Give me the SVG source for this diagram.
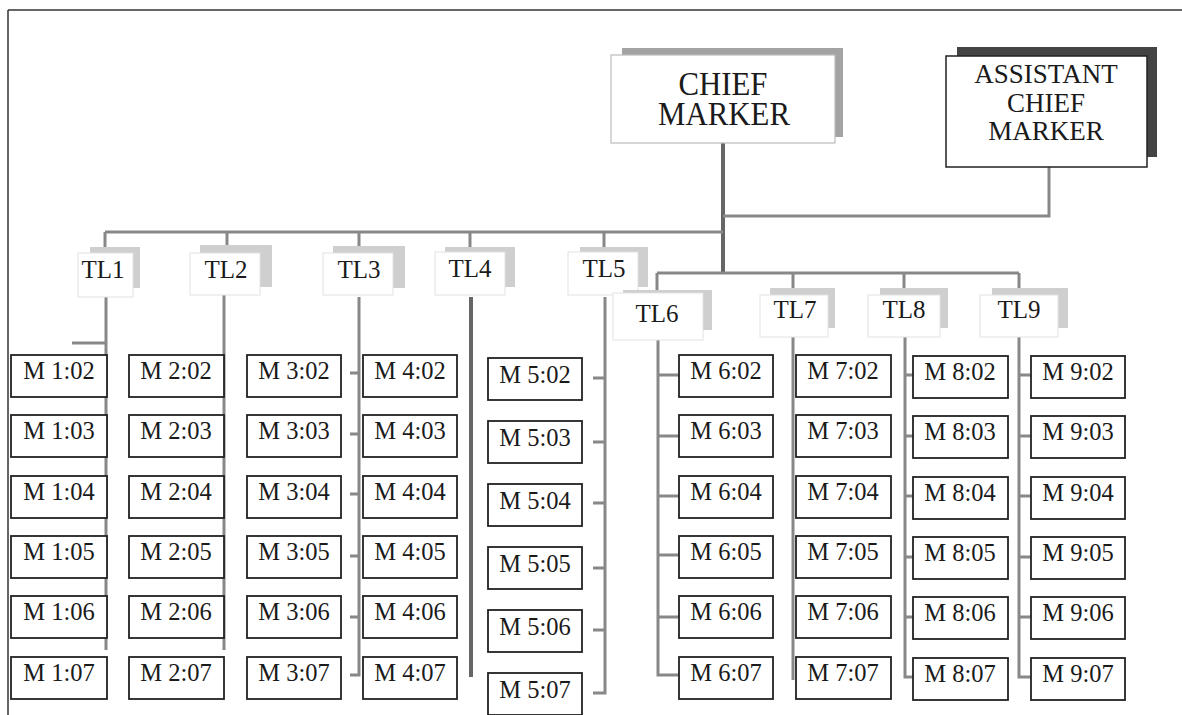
<svg xmlns="http://www.w3.org/2000/svg" width="1182" height="715" viewBox="0 0 1182 715">
<style>
.lbl{font-family:"Liberation Serif","Times New Roman",serif;fill:#1a1a1a;text-anchor:middle}
.m{font-size:24.5px}
.tl{font-size:25px}
.big{font-size:34px}
.asst{font-size:27px}
.mbox{fill:#fff;stroke:#222;stroke-width:1.8}
.tlf{fill:#fff;stroke:#e2e2e2;stroke-width:1}
.tls{fill:#cfcfcf}
.c{stroke:#888;stroke-width:3;fill:none}
.cd{stroke:#666;stroke-width:4;fill:none}
</style>
<rect width="1182" height="715" fill="#fff"/>
<g id="frame" stroke="#333" stroke-width="1.5" fill="none">
<line x1="8" y1="10" x2="1182" y2="10"/>
<line x1="8" y1="10" x2="8" y2="715"/>
</g>
<g id="connectors">
<path class="cd" d="M723 143V273"/>
<path class="c" d="M1049 167V216H723"/>
<path class="c" d="M105 232H723"/>
<path class="c" d="M105 232V255M227 232V255M359 232V255M470 232V255M604 232V255"/>
<path class="c" d="M657 273H1019M657 273V295M793 273V295M904 273V295M1019 273V295"/>
<path class="c" d="M106 297V343H72M106 343V650"/>
<path class="c" d="M224 295V650"/>
<path class="c" d="M359 297V675H350M359 373H350M359 434H350M359 494H350M359 556H350M359 617H350"/>
<path class="cd" d="M471 297V677"/>
<path class="c" d="M605 297V693H593M605 378H593M605 442H593M605 503H593M605 568H593M605 630H593"/>
<path class="c" d="M658 340V675H679M658 375H679M658 436H679M658 496H679M658 555H679M658 617H679"/>
<path class="c" d="M793 337V680"/>
<path class="c" d="M905 337V677H913M905 375H913M905 436H913M905 496H913M905 557H913M905 617H913"/>
<path class="c" d="M1019 337V677H1031M1019 375H1031M1019 436H1031M1019 496H1031M1019 557H1031M1019 617H1031"/>
</g>
<g id="chief">
<rect x="622" y="48" width="221" height="89" fill="#a3a3a3"/>
<rect x="611" y="55" width="224" height="88" fill="#fff" stroke="#bbb" stroke-width="1.2"/>
<text class="lbl big" x="723" y="95" textLength="89" lengthAdjust="spacingAndGlyphs">CHIEF</text>
<text class="lbl big" x="724" y="125" textLength="132" lengthAdjust="spacingAndGlyphs">MARKER</text>
</g>
<g id="assistant">
<rect x="957" y="47" width="200" height="110" fill="#444"/>
<rect x="946" y="56" width="201" height="111" fill="#fff" stroke="#222" stroke-width="1.5"/>
<text class="lbl asst" x="1046" y="83">ASSISTANT</text>
<text class="lbl asst" x="1046" y="112">CHIEF</text>
<text class="lbl asst" x="1046" y="140">MARKER</text>
</g>
<g id="tl1"><rect class="tls" x="90" y="247" width="50" height="41"/><rect class="tlf" x="78" y="253" width="55" height="44"/><text class="lbl tl" x="103" y="278">TL1</text></g>
<g id="tl2"><rect class="tls" x="200" y="245" width="72" height="42"/><rect class="tlf" x="190" y="253" width="70" height="42"/><text class="lbl tl" x="226" y="278">TL2</text></g>
<g id="tl3"><rect class="tls" x="333" y="246" width="72" height="42"/><rect class="tlf" x="323" y="253" width="70" height="42"/><text class="lbl tl" x="359" y="278">TL3</text></g>
<g id="tl4"><rect class="tls" x="445" y="247" width="70" height="40"/><rect class="tlf" x="435" y="252" width="70" height="43"/><text class="lbl tl" x="470" y="277">TL4</text></g>
<g id="tl5"><rect class="tls" x="580" y="247" width="68" height="40"/><rect class="tlf" x="568" y="252" width="70" height="43"/><text class="lbl tl" x="604" y="277">TL5</text></g>
<g id="tl6"><rect class="tls" x="623" y="290" width="89" height="40"/><rect class="tlf" x="613" y="293" width="90" height="47"/><text class="lbl tl" x="657" y="322">TL6</text></g>
<g id="tl7"><rect class="tls" x="770" y="288" width="65" height="40"/><rect class="tlf" x="760" y="295" width="68" height="42"/><text class="lbl tl" x="795" y="318">TL7</text></g>
<g id="tl8"><rect class="tls" x="880" y="288" width="68" height="40"/><rect class="tlf" x="868" y="295" width="72" height="42"/><text class="lbl tl" x="904" y="318">TL8</text></g>
<g id="tl9"><rect class="tls" x="992" y="288" width="76" height="40"/><rect class="tlf" x="980" y="295" width="78" height="42"/><text class="lbl tl" x="1019" y="318">TL9</text></g>
<g id="m1">
<g id="m1-02"><rect class="mbox" x="11" y="355" width="96" height="42"/><text class="lbl m" x="59" y="379">M 1:02</text></g>
<g id="m1-03"><rect class="mbox" x="11" y="415" width="96" height="42"/><text class="lbl m" x="59" y="439">M 1:03</text></g>
<g id="m1-04"><rect class="mbox" x="11" y="476" width="96" height="42"/><text class="lbl m" x="59" y="500">M 1:04</text></g>
<g id="m1-05"><rect class="mbox" x="11" y="536" width="96" height="42"/><text class="lbl m" x="59" y="560">M 1:05</text></g>
<g id="m1-06"><rect class="mbox" x="11" y="596" width="96" height="42"/><text class="lbl m" x="59" y="620">M 1:06</text></g>
<g id="m1-07"><rect class="mbox" x="11" y="657" width="96" height="42"/><text class="lbl m" x="59" y="681">M 1:07</text></g>
</g>
<g id="m2">
<g id="m2-02"><rect class="mbox" x="129" y="355" width="95" height="42"/><text class="lbl m" x="176" y="379">M 2:02</text></g>
<g id="m2-03"><rect class="mbox" x="129" y="415" width="95" height="42"/><text class="lbl m" x="176" y="439">M 2:03</text></g>
<g id="m2-04"><rect class="mbox" x="129" y="476" width="95" height="42"/><text class="lbl m" x="176" y="500">M 2:04</text></g>
<g id="m2-05"><rect class="mbox" x="129" y="536" width="95" height="42"/><text class="lbl m" x="176" y="560">M 2:05</text></g>
<g id="m2-06"><rect class="mbox" x="129" y="596" width="95" height="42"/><text class="lbl m" x="176" y="620">M 2:06</text></g>
<g id="m2-07"><rect class="mbox" x="129" y="657" width="95" height="42"/><text class="lbl m" x="176" y="681">M 2:07</text></g>
</g>
<g id="m3">
<g id="m3-02"><rect class="mbox" x="247" y="355" width="94" height="42"/><text class="lbl m" x="294" y="379">M 3:02</text></g>
<g id="m3-03"><rect class="mbox" x="247" y="415" width="94" height="42"/><text class="lbl m" x="294" y="439">M 3:03</text></g>
<g id="m3-04"><rect class="mbox" x="247" y="476" width="94" height="42"/><text class="lbl m" x="294" y="500">M 3:04</text></g>
<g id="m3-05"><rect class="mbox" x="247" y="536" width="94" height="42"/><text class="lbl m" x="294" y="560">M 3:05</text></g>
<g id="m3-06"><rect class="mbox" x="247" y="596" width="94" height="42"/><text class="lbl m" x="294" y="620">M 3:06</text></g>
<g id="m3-07"><rect class="mbox" x="247" y="657" width="94" height="42"/><text class="lbl m" x="294" y="681">M 3:07</text></g>
</g>
<g id="m4">
<g id="m4-02"><rect class="mbox" x="363" y="355" width="94" height="42"/><text class="lbl m" x="410" y="379">M 4:02</text></g>
<g id="m4-03"><rect class="mbox" x="363" y="415" width="94" height="42"/><text class="lbl m" x="410" y="439">M 4:03</text></g>
<g id="m4-04"><rect class="mbox" x="363" y="476" width="94" height="42"/><text class="lbl m" x="410" y="500">M 4:04</text></g>
<g id="m4-05"><rect class="mbox" x="363" y="536" width="94" height="42"/><text class="lbl m" x="410" y="560">M 4:05</text></g>
<g id="m4-06"><rect class="mbox" x="363" y="596" width="94" height="42"/><text class="lbl m" x="410" y="620">M 4:06</text></g>
<g id="m4-07"><rect class="mbox" x="363" y="657" width="94" height="42"/><text class="lbl m" x="410" y="681">M 4:07</text></g>
</g>
<g id="m5">
<g id="m5-02"><rect class="mbox" x="488" y="358" width="94" height="42"/><text class="lbl m" x="535" y="383">M 5:02</text></g>
<g id="m5-03"><rect class="mbox" x="488" y="421" width="94" height="42"/><text class="lbl m" x="535" y="446">M 5:03</text></g>
<g id="m5-04"><rect class="mbox" x="488" y="484" width="94" height="42"/><text class="lbl m" x="535" y="509">M 5:04</text></g>
<g id="m5-05"><rect class="mbox" x="488" y="547" width="94" height="42"/><text class="lbl m" x="535" y="572">M 5:05</text></g>
<g id="m5-06"><rect class="mbox" x="488" y="610" width="94" height="42"/><text class="lbl m" x="535" y="635">M 5:06</text></g>
<g id="m5-07"><rect class="mbox" x="488" y="673" width="94" height="42"/><text class="lbl m" x="535" y="698">M 5:07</text></g>
</g>
<g id="m6">
<g id="m6-02"><rect class="mbox" x="679" y="355" width="94" height="42"/><text class="lbl m" x="726" y="379">M 6:02</text></g>
<g id="m6-03"><rect class="mbox" x="679" y="415" width="94" height="42"/><text class="lbl m" x="726" y="439">M 6:03</text></g>
<g id="m6-04"><rect class="mbox" x="679" y="476" width="94" height="42"/><text class="lbl m" x="726" y="500">M 6:04</text></g>
<g id="m6-05"><rect class="mbox" x="679" y="536" width="94" height="42"/><text class="lbl m" x="726" y="560">M 6:05</text></g>
<g id="m6-06"><rect class="mbox" x="679" y="596" width="94" height="42"/><text class="lbl m" x="726" y="620">M 6:06</text></g>
<g id="m6-07"><rect class="mbox" x="679" y="657" width="94" height="42"/><text class="lbl m" x="726" y="681">M 6:07</text></g>
</g>
<g id="m7">
<g id="m7-02"><rect class="mbox" x="796" y="355" width="95" height="42"/><text class="lbl m" x="843" y="379">M 7:02</text></g>
<g id="m7-03"><rect class="mbox" x="796" y="415" width="95" height="42"/><text class="lbl m" x="843" y="439">M 7:03</text></g>
<g id="m7-04"><rect class="mbox" x="796" y="476" width="95" height="42"/><text class="lbl m" x="843" y="500">M 7:04</text></g>
<g id="m7-05"><rect class="mbox" x="796" y="536" width="95" height="42"/><text class="lbl m" x="843" y="560">M 7:05</text></g>
<g id="m7-06"><rect class="mbox" x="796" y="596" width="95" height="42"/><text class="lbl m" x="843" y="620">M 7:06</text></g>
<g id="m7-07"><rect class="mbox" x="796" y="657" width="95" height="42"/><text class="lbl m" x="843" y="681">M 7:07</text></g>
</g>
<g id="m8">
<g id="m8-02"><rect class="mbox" x="913" y="356" width="95" height="42"/><text class="lbl m" x="960" y="380">M 8:02</text></g>
<g id="m8-03"><rect class="mbox" x="913" y="416" width="95" height="42"/><text class="lbl m" x="960" y="440">M 8:03</text></g>
<g id="m8-04"><rect class="mbox" x="913" y="477" width="95" height="42"/><text class="lbl m" x="960" y="501">M 8:04</text></g>
<g id="m8-05"><rect class="mbox" x="913" y="537" width="95" height="42"/><text class="lbl m" x="960" y="561">M 8:05</text></g>
<g id="m8-06"><rect class="mbox" x="913" y="597" width="95" height="42"/><text class="lbl m" x="960" y="621">M 8:06</text></g>
<g id="m8-07"><rect class="mbox" x="913" y="658" width="95" height="42"/><text class="lbl m" x="960" y="682">M 8:07</text></g>
</g>
<g id="m9">
<g id="m9-02"><rect class="mbox" x="1031" y="356" width="94" height="42"/><text class="lbl m" x="1078" y="380">M 9:02</text></g>
<g id="m9-03"><rect class="mbox" x="1031" y="416" width="94" height="42"/><text class="lbl m" x="1078" y="440">M 9:03</text></g>
<g id="m9-04"><rect class="mbox" x="1031" y="477" width="94" height="42"/><text class="lbl m" x="1078" y="501">M 9:04</text></g>
<g id="m9-05"><rect class="mbox" x="1031" y="537" width="94" height="42"/><text class="lbl m" x="1078" y="561">M 9:05</text></g>
<g id="m9-06"><rect class="mbox" x="1031" y="597" width="94" height="42"/><text class="lbl m" x="1078" y="621">M 9:06</text></g>
<g id="m9-07"><rect class="mbox" x="1031" y="658" width="94" height="42"/><text class="lbl m" x="1078" y="682">M 9:07</text></g>
</g>
</svg>
